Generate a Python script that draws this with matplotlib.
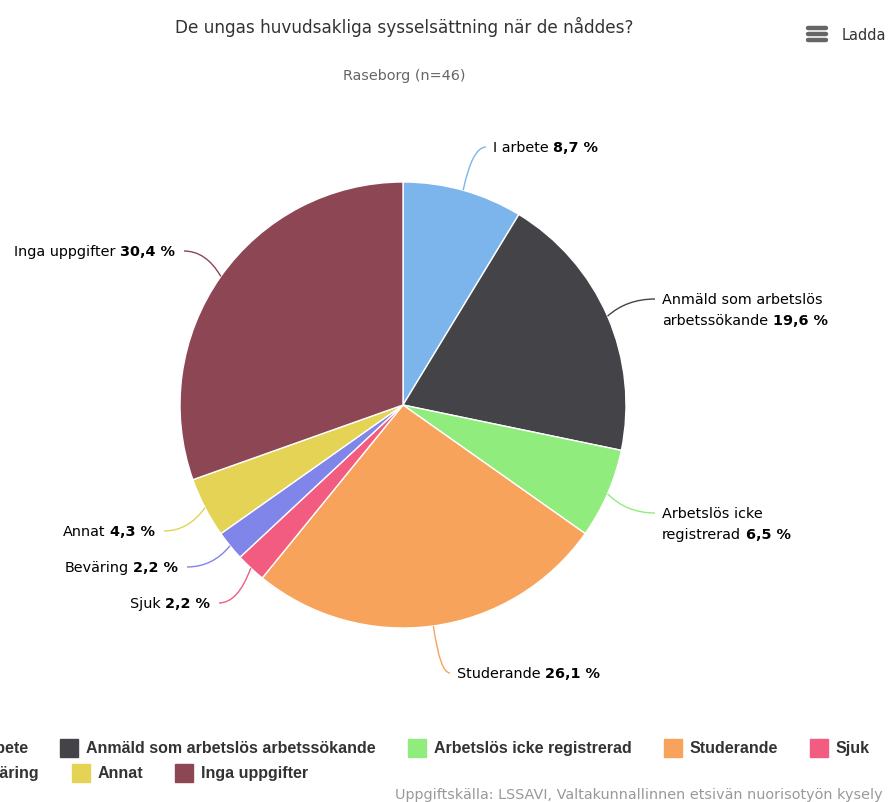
import matplotlib
matplotlib.use("Agg")
import matplotlib.pyplot as plt
import numpy as np
from matplotlib.patches import Rectangle, PathPatch
from matplotlib.path import Path

W, H = 890, 802

categories = [
    "I arbete",
    "Anmäld som arbetslös arbetssökande",
    "Arbetslös icke registrerad",
    "Studerande",
    "Sjuk",
    "Beväring",
    "Annat",
    "Inga uppgifter",
]
label_names = [
    "I arbete",
    "Anmäld som arbetslös\narbetssökande",
    "Arbetslös icke\nregistrerad",
    "Studerande",
    "Sjuk",
    "Beväring",
    "Annat",
    "Inga uppgifter",
]
counts = [4, 9, 3, 12, 1, 1, 2, 14]
colors = ["#7cb5ec", "#434348", "#90ed7d", "#f7a35c", "#f15c80", "#8085e9", "#e4d354", "#8d4653"]
legend_rows = [[0, 1, 2, 3, 4], [5, 6, 7]]

title = "De ungas huvudsakliga sysselsättning när de nåddes?"
subtitle = "Raseborg (n=46)"
source = "Uppgiftskälla: LSSAVI, Valtakunnallinnen etsivän nuorisotyön kysely"

# layout (pixels, top-down)
CX, CY, R = 403, 405, 223
label_pos = [(493, 147, "left"), (662, 299, "left"), (662, 513, "left"), (457, 673, "left"),
             (210, 603, "right"), (178, 567, "right"), (155, 531, "right"), (175, 251, "right")]
LABEL_FS = 10.4
LINE_H = 21


def main():
    fig = plt.figure(figsize=(W / 100, H / 100), dpi=100)
    ax = fig.add_axes([0, 0, 1, 1])
    total = sum(counts)
    pct = [f"{100 * c / total:.1f}".replace(".", ",") + " %" for c in counts]

    # y axis inverted: startangle -90 is visually up, counterclock in data = clockwise on screen
    ax.pie(counts, colors=colors, startangle=-90, counterclock=True, center=(CX, CY), radius=R,
           wedgeprops=dict(edgecolor="white", linewidth=1))
    ax.set_xlim(0, W)
    ax.set_ylim(H, 0)
    ax.set_aspect("auto")
    ax.axis("off")

    renderer = fig.canvas.get_renderer()

    def width(t):
        return t.get_window_extent(renderer).width

    def runs(x, y, parts, ha, size, color="#000000"):
        # parts: list of (text, weight); placed one after another on one line
        if ha == "right":
            parts = parts[::-1]
        for txt, wt in parts:
            t = ax.text(x, y + 5, txt, ha=ha, va="baseline", fontsize=size, fontweight=wt, color=color)
            w = width(t) + size * 0.45
            x = x + w if ha == "left" else x - w

    cum = np.cumsum([0] + counts)
    for i, (x, y, ha) in enumerate(label_pos):
        ang = np.pi * 2 * (cum[i] + cum[i + 1]) / 2 / total
        px, py = CX + R * np.sin(ang), CY - R * np.cos(ang)
        ex = x - 7 if ha == "left" else x + 9
        ctrl = (px + 0.4 * (ex - px), y)
        path = Path([(px, py), ctrl, (ex, y)], [Path.MOVETO, Path.CURVE3, Path.CURVE3])
        ax.add_patch(PathPatch(path, fc="none", ec=colors[i], lw=1))
        lines = label_names[i].split("\n")
        for k, line in enumerate(lines):
            parts = [(line, "normal")]
            if k == len(lines) - 1:
                parts.append((pct[i], "bold"))
            runs(x, y + k * LINE_H, parts, ha, LABEL_FS, "#000000")

    # legend (cut at the figure edges, as in the source screenshot)
    lx0, sym, gap, dist = -55, 18, 8, 32
    for r, row in enumerate(legend_rows):
        x = lx0
        y = 748 + r * 25
        for i in row:
            ax.add_patch(Rectangle((x, y - sym / 2), sym, sym, color=colors[i]))
            t = ax.text(x + sym + gap, y + 5, categories[i], ha="left", va="baseline",
                        fontsize=11.5, fontweight="bold", color="#333333",
                        family=["Liberation Sans", "DejaVu Sans"])
            x += sym + gap + width(t) + dist

    ax.text(404, 27, title, ha="center", va="center", fontsize=12.2, color="#333333")
    ax.text(404, 76, subtitle, ha="center", va="center", fontsize=10.4, color="#666666")
    ax.text(395, 795, source, ha="left", va="center", fontsize=10.4, color="#999999")

    # export menu button
    for yy in (28, 34, 40):
        ax.plot([808, 826], [yy, yy], color="#666666", lw=3.2, solid_capstyle="round")
    ax.text(842, 35, "Ladda", ha="left", va="center", fontsize=10.5, color="#333333")

    fig.savefig("out.png", dpi=100)


if __name__ == "__main__":
    main()
